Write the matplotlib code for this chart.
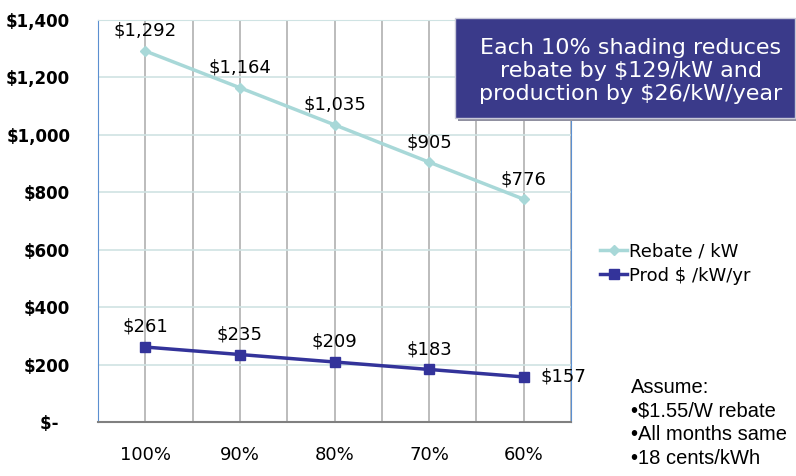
import matplotlib.pyplot as plt
from matplotlib.ticker import FuncFormatter, MultipleLocator
from matplotlib.patches import Rectangle

categorias = ['100%', '90%', '80%', '70%', '60%']
rebate = [1292, 1164, 1035, 905, 776]
producao = [261, 235, 209, 183, 157]
yticks = [0, 200, 400, 600, 800, 1000, 1200, 1400]

fig = plt.figure(figsize=(7.96, 4.76), dpi=100)
ax = fig.add_axes([98/796, 1 - 422/476, 473/796, 402/476])

x = list(range(len(categorias)))
ax.plot(x, rebate, color='#a8d8d8', lw=2.5, marker='D', ms=5, label='Rebate / kW')
ax.plot(x, producao, color='#33339a', lw=2.5, marker='s', ms=7, label='Prod $ /kW/yr')

for i, v in enumerate(rebate):
    ax.annotate('$' + format(v, ','), (i, v), xytext=(0, 8), textcoords='offset points',
                ha='center', va='bottom', fontsize=13)
for i, v in enumerate(producao[:-1]):
    ax.annotate('$' + format(v, ','), (i, v), xytext=(0, 8), textcoords='offset points',
                ha='center', va='bottom', fontsize=13)
ax.annotate('$' + str(producao[-1]), (4, producao[-1]), xytext=(12, 0), textcoords='offset points',
            ha='left', va='center', fontsize=13)

ax.set_xlim(-0.5, 4.5)
ax.set_ylim(0, 1400)
ax.set_xticks(x)
ax.set_xticklabels(categorias, fontsize=13)
ax.xaxis.set_minor_locator(MultipleLocator(0.5))
ax.set_yticks(yticks)
ax.yaxis.set_major_formatter(FuncFormatter(lambda v, p: '$-  ' if v == 0 else '$' + format(int(v), ',')))
for t in ax.get_yticklabels():
    t.set_fontweight('bold')
    t.set_fontsize(12)
ax.tick_params(axis='both', which='both', length=0)
ax.tick_params(axis='x', pad=17)
ax.tick_params(axis='y', pad=20)

ax.grid(True, which='both', axis='x', color='#b0b0b0', lw=1.2)
ax.grid(True, which='major', axis='y', color='#cfe3e3', lw=1.2)
ax.set_axisbelow(True)
ax.spines['left'].set_color('#5b8fd0')
ax.spines['right'].set_color('#5b8fd0')
ax.spines['top'].set_color('#cfe3e3')
ax.spines['bottom'].set_color('#808080')
ax.spines['bottom'].set_linewidth(1.5)

fig.legend(loc='upper left', bbox_to_anchor=(584/796, 1 - 226/476), frameon=False,
           prop={'size': 13}, handlelength=1.5,
           handletextpad=0.1, labelspacing=0.35)

# caixa de destaque
fig.add_artist(Rectangle((458/796, 1 - 121/476), 340/796, 100/476, transform=fig.transFigure,
                         fc='#9090a0', ec='none'))
fig.add_artist(Rectangle((455/796, 1 - 118/476), 340/796, 100/476, transform=fig.transFigure,
                         fc='#3a3a8a', ec='#c8c8d8', lw=1))
fig.text(631/796, 1 - 71/476, 'Each 10% shading reduces\nrebate by $129/kW and\nproduction by $26/kW/year',
         ha='center', va='center', color='white', fontsize=16, linespacing=1.2)
fig.text(631/796, 1 - 378/476, 'Assume:\n•$1.55/W rebate\n•All months same\n•18 cents/kWh',
         ha='left', va='top', fontsize=14.5, family='Liberation Sans', linespacing=1.3)

fig.savefig('out.png', dpi=100)
